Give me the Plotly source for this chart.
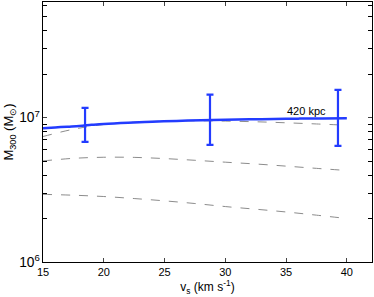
import plotly.graph_objects as go

# Data
vs_curve = [15, 16, 17, 18, 19, 20, 22, 24, 26, 28, 30, 32, 34, 36, 38, 40]
m_blue = [8.44e6, 8.55e6, 8.65e6, 8.74e6, 8.9e6, 9.04e6, 9.22e6, 9.35e6, 9.48e6, 9.57e6, 9.65e6, 9.72e6, 9.78e6, 9.83e6, 9.87e6, 9.9e6]

vs_dash = [15, 17.5, 20, 22.5, 25, 27.5, 30, 32.5, 35, 37.5, 40]
m_dash1 = [7.39e6, 8.3e6, 8.95e6, 9.3e6, 9.45e6, 9.5e6, 9.45e6, 9.35e6, 9.2e6, 9.03e6, 8.85e6]
m_dash2 = [5.01e6, 5.22e6, 5.31e6, 5.3e6, 5.2e6, 5.06e6, 4.91e6, 4.77e6, 4.61e6, 4.45e6, 4.3e6]
m_dash3 = [2.94e6, 2.9e6, 2.84e6, 2.75e6, 2.65e6, 2.54e6, 2.42e6, 2.32e6, 2.22e6, 2.11e6, 2.0e6]

vs_pts = [18.46, 28.74, 39.27]
m_pts = [8.76e6, 9.6e6, 9.9e6]
m_hi = [1.167e7, 1.44e7, 1.556e7]
m_lo = [6.79e6, 6.47e6, 6.37e6]

x_ticks = [15, 20, 25, 30, 35, 40]

blue = "rgb(35,60,255)"
gray = "rgb(140,140,140)"

fig = go.Figure()
for m in (m_dash1, m_dash2, m_dash3):
    fig.add_trace(go.Scatter(x=vs_dash, y=m, mode="lines", line=dict(color=gray, width=1, dash="dash", shape="spline"), showlegend=False))
fig.add_trace(go.Scatter(x=vs_curve, y=m_blue, mode="lines", line=dict(color=blue, width=2.5, shape="spline"), showlegend=False))
fig.add_trace(go.Scatter(
    x=vs_pts, y=m_pts, mode="markers", marker=dict(size=1, color=blue),
    error_y=dict(type="data", symmetric=False,
                 array=[h - c for h, c in zip(m_hi, m_pts)],
                 arrayminus=[c - l for c, l in zip(m_pts, m_lo)],
                 color=blue, thickness=2.2, width=3.5),
    showlegend=False))

fig.add_annotation(x=36.7, y=7.045, xref="x", yref="y", text="420 kpc", showarrow=False,
                   font=dict(size=11, color="black", family="Liberation Sans, Arial"))

fig.update_layout(
    width=374, height=297,
    margin=dict(l=43, r=2, t=2, b=35),
    paper_bgcolor="white", plot_bgcolor="white",
    font=dict(family="Liberation Sans, Arial", size=11, color="black"),
    xaxis=dict(range=[15, 42.07], tickvals=x_ticks, ticks="inside", ticklen=4,
               showline=True, linecolor="black", linewidth=1, mirror="ticks",
               showgrid=False, zeroline=False, tickfont=dict(size=11),
               title=dict(text="v<sub>s</sub> (km s<sup>-1</sup>)", standoff=2, font=dict(size=12))),
    yaxis=dict(type="log", range=[6, 7.8], dtick=1, exponentformat="power", ticks="inside", ticklen=4,
               minor=dict(ticks="inside", ticklen=4, dtick="D1", showgrid=False, tickcolor="black"),
               showline=True, linecolor="black", linewidth=1, mirror="ticks",
               showgrid=False, zeroline=False, tickfont=dict(size=11),
               title=dict(text="M<sub>300</sub> (M<sub>⊙</sub>)", standoff=2, font=dict(size=13))),
)

fig.write_html("out.html", config={"displayModeBar": False},
               post_script="document.body.style.margin='0';document.body.style.overflow='hidden';")
